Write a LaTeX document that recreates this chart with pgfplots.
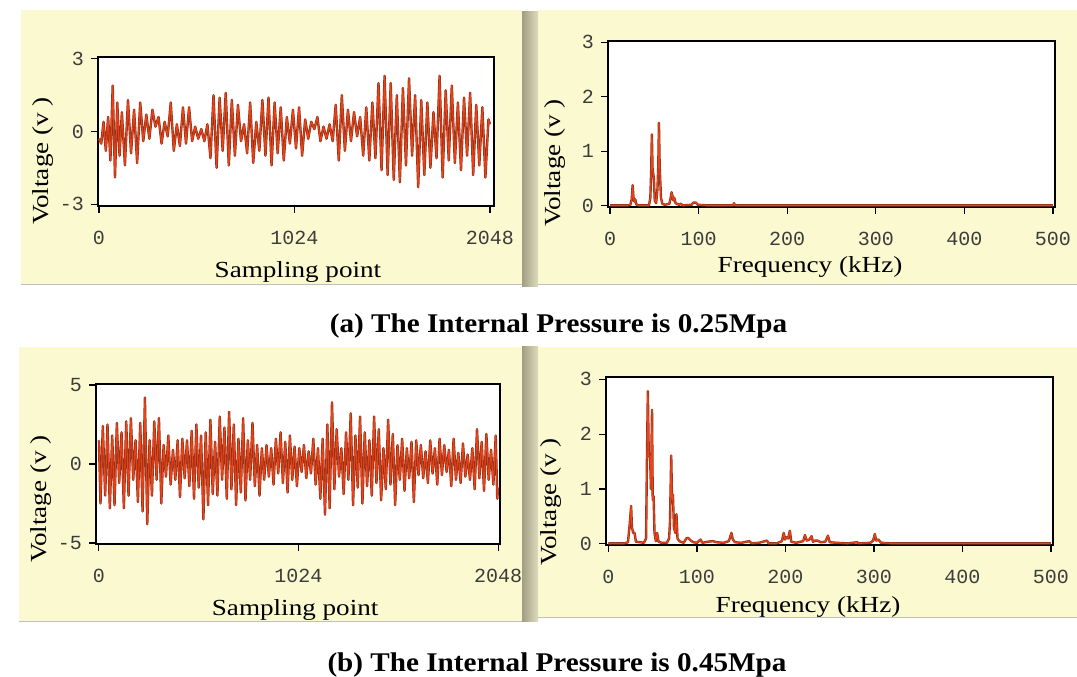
\documentclass[border=0pt]{standalone}
\usepackage{pgfplots}
\pgfplotsset{compat=1.18}
\usepackage{pgfplotstable}
\usepackage{graphicx}
\usepackage{fontspec}
\setmainfont{Liberation Serif}
\newfontfamily\monof{Liberation Mono}

\definecolor{panel}{RGB}{251,249,207}
\definecolor{stripA}{RGB}{160,158,128}
\definecolor{stripB}{RGB}{222,220,190}
\definecolor{sigdark}{RGB}{140,52,28}
\definecolor{sigred}{RGB}{238,66,22}
\definecolor{tickgray}{RGB}{60,60,60}

\pgfplotstableread{
x y
0 -0.3
12 -0.5
24 0.4
36 -0.8
48 0.6
60 -1.2
72 1.9
84 -1.9
96 1.2
108 -1.0
120 0.8
136 -1.4
152 1.3
168 -0.9
184 0.9
200 -1.3
216 1.2
232 -0.4
248 0.7
264 -0.3
280 0.9
296 0.2
312 0.6
328 -0.5
344 0.4
360 -0.2
376 1.2
392 -0.8
408 0.3
424 -0.6
440 1.0
456 -0.5
472 1.0
488 -0.4
504 0.2
520 -0.3
536 0.1
552 -0.4
568 0.3
584 -1.1
600 1.5
616 -1.5
632 1.4
648 -0.8
664 1.6
680 -1.4
696 1.3
712 -1.0
728 1.1
744 -0.4
760 0.3
776 -0.9
792 1.2
808 -1.3
824 0.4
840 -0.8
856 1.3
872 -1.0
888 1.4
904 -1.4
920 1.2
936 -0.9
952 1.0
968 -1.2
984 0.6
1000 -0.5
1016 0.9
1032 -0.7
1048 1.0
1064 -1.0
1080 0.5
1096 -0.3
1112 0.4
1128 0.1
1144 0.6
1160 -0.4
1176 0.2
1192 -0.3
1208 0.3
1224 -0.4
1240 1.1
1256 -1.2
1272 1.5
1288 -0.8
1304 0.9
1320 -0.4
1336 0.8
1352 -0.2
1368 0.6
1384 -1.0
1400 1.0
1416 -1.2
1432 1.2
1448 -1.1
1464 2.0
1480 -1.6
1496 2.3
1512 -1.8
1528 2.0
1544 -2.0
1560 1.5
1576 -2.1
1592 1.8
1608 -1.4
1624 2.2
1640 -1.0
1656 1.5
1672 -2.3
1688 1.3
1704 -1.8
1720 1.2
1736 -1.5
1752 0.8
1768 -1.1
1784 2.3
1800 -1.9
1816 1.7
1832 -1.2
1848 1.9
1864 -1.3
1880 1.2
1896 -1.6
1912 1.4
1928 -1.0
1944 1.6
1960 -1.8
1976 1.1
1992 -1.4
2008 1.0
2024 -1.9
2040 0.5
2048 0.3
}\timeA

\pgfplotstableread{
x y
0 1.5
8 -2.5
20 2.4
32 -2.0
44 2.5
56 -2.8
68 1.8
80 -2.6
92 2.6
104 -1.2
116 2.0
128 -2.8
140 2.7
152 -2.0
164 2.9
176 -1.0
188 1.5
200 -2.4
212 2.6
224 -3.0
236 4.2
248 -3.8
260 1.5
272 -2.0
284 2.7
296 -1.0
308 2.9
320 -2.5
332 1.2
344 -0.8
356 1.8
368 -1.3
380 0.9
392 -1.0
404 1.5
416 -2.1
428 1.6
440 -0.9
452 1.5
464 -1.4
476 2.1
488 -2.2
500 2.5
512 -1.5
524 1.8
536 -3.5
548 2.0
560 -2.6
572 2.8
584 -1.9
596 1.4
608 -2.0
620 3.0
632 -1.0
644 2.3
656 -2.2
668 3.3
680 -1.6
692 2.5
704 -2.6
716 1.6
728 -1.8
740 2.9
752 -2.3
764 1.5
776 -1.0
788 2.6
800 -1.4
812 1.2
824 -2.0
836 1.0
848 -1.0
860 1.2
872 -0.8
884 1.0
896 -1.3
908 1.6
920 -0.6
932 2.0
944 -1.2
956 1.4
968 -1.8
980 1.8
992 -1.0
1004 1.1
1016 -1.4
1028 1.0
1040 -0.5
1052 1.2
1064 -0.9
1076 0.8
1088 -0.6
1100 1.6
1112 -1.3
1124 1.0
1136 -2.2
1148 1.6
1160 -3.2
1172 2.5
1184 -2.8
1196 3.9
1208 -1.6
1220 2.2
1232 -0.8
1244 1.0
1256 -1.9
1268 2.0
1280 -1.0
1292 3.2
1304 -2.6
1316 1.8
1328 -1.5
1340 3.0
1352 -2.5
1364 2.0
1376 -1.4
1388 1.5
1400 -2.0
1412 3.0
1424 -1.2
1436 2.2
1448 -2.3
1460 1.0
1472 -1.6
1484 2.8
1496 -1.3
1508 1.9
1520 -2.6
1532 1.2
1544 -1.0
1556 1.6
1568 -1.7
1580 1.0
1592 -0.9
1604 1.4
1616 -2.4
1628 1.5
1640 -0.7
1652 1.2
1664 -0.9
1676 0.8
1688 -1.2
1700 1.5
1712 -0.6
1724 1.0
1736 -1.3
1748 1.6
1760 -0.7
1772 1.2
1784 -0.5
1796 0.9
1808 -1.4
1820 1.6
1832 -1.0
1844 0.7
1856 -1.2
1868 1.3
1880 -0.8
1892 0.6
1904 -1.0
1916 1.0
1928 -1.6
1940 2.2
1952 -0.9
1964 1.4
1976 -1.7
1988 1.9
2000 -1.0
2012 0.9
2024 -1.3
2036 1.8
2044 -2.2
2048 -1.5
}\timeB

\pgfplotstableread{
x y
0 0.01
20 0.01
23 0.02
24.5 0.12
25.5 0.38
26.5 0.15
27.5 0.08
28.5 0.12
29.5 0.03
32 0.01
44 0.01
45.5 0.15
46.5 0.68
47.2 1.31
48 0.68
49.5 0.5
50.5 0.1
52 0.05
53.5 0.3
54.5 0.75
55.2 1.52
56 0.75
57.5 0.15
59 0.04
62 0.02
67 0.04
68.5 0.15
69.5 0.25
70.5 0.18
71.5 0.1
72.5 0.15
74 0.05
78 0.02
80 0.04
82 0.01
92 0.02
94 0.06
97 0.06
99 0.02
110 0.01
139 0.01
140 0.05
141 0.01
200 0.01
500 0.01
}\specA

\pgfplotstableread{
x y
0 0.01
18 0.01
22 0.03
24 0.36
25.6 0.69
26.5 0.3
28 0.2
29.5 0.2
31 0.04
36 0.03
40 0.02
42.5 0.1
43.5 1.6
44.5 2.78
45.5 1.6
47 1.6
48 1.0
49.2 2.44
50 0.8
51 0.87
52 0.2
53.5 0.05
55 0.2
56.5 0.04
60 0.02
66 0.02
68.5 0.1
69.5 0.4
70.9 1.61
71.8 0.8
72.8 0.9
74 0.3
75.5 0.2
76.8 0.54
78 0.1
80 0.05
85 0.02
88 0.1
90 0.11
93 0.06
96 0.03
100 0.02
104 0.08
106 0.02
112 0.04
118 0.05
122 0.03
130 0.02
136 0.05
138 0.15
139 0.2
140.5 0.08
143 0.03
150 0.02
159 0.05
162 0.01
170 0.02
179 0.06
181 0.01
190 0.01
196 0.05
198 0.2
199.5 0.08
201 0.12
203 0.1
205 0.24
206.5 0.04
212 0.02
220 0.05
222 0.16
224 0.06
227 0.08
229.5 0.14
231 0.04
233.5 0.06
236 0.06
240 0.03
245 0.04
248 0.15
250 0.03
258 0.02
270 0.01
281 0.03
283 0.01
296 0.02
299 0.06
301 0.18
302.5 0.06
305 0.08
308 0.02
320 0.01
500 0.01
}\specB

\pgfplotsset{
  panelaxis/.style={
    scale only axis,
    anchor=south west,
    axis background/.style={fill=white},
    axis line style={black, line width=1.1pt},
    tick align=outside,
    major tick length=7pt,
    tick style={black, line width=1.1pt},
    xtick pos=bottom, ytick pos=left,
    ticklabel style={font=\monof\fontsize{20}{20}\selectfont, text=tickgray, inner sep=0pt},
    xticklabel style={anchor=center, yshift=-25pt},
    yticklabel style={anchor=east, xshift=-7pt},
    label style={font=\fontsize{23}{23}\selectfont, anchor=center},
  },
  darkline/.style={color=sigdark, line width=2.4pt, line join=round},
  redline/.style={color=sigred, line width=1.1pt, line join=round},
}

\begin{document}
\begin{tikzpicture}[x=1pt,y=1pt]
\path[use as bounding box] (0,0) rectangle (1077,677);
% panels
\fill[panel] (21,392) rectangle (522,667);
\fill[panel] (538,392) rectangle (1077,667);
\fill[panel] (19,55) rectangle (522,330);
\fill[panel] (538,59) rectangle (1077,330);
\shade[left color=stripA, right color=stripB] (522,390) rectangle (538,665);
\shade[left color=stripA, right color=stripB] (522,55) rectangle (538,330);
\draw[gray!50, line width=1pt] (21,392) -- (522,392);
\draw[gray!50, line width=1pt] (538,392) -- (1077,392);
\draw[gray!50, line width=1pt] (19,55) -- (522,55);
\draw[gray!50, line width=1pt] (538,59) -- (1077,59);

% (a) time
\begin{axis}[panelaxis, at={(98pt,471pt)}, width=396pt, height=149pt,
  xmin=-5, xmax=2069, ymin=-3.08, ymax=3.08,
  xtick={0,1024,2048}, xticklabels={0,1024,2048},
  ytick={-3,0,3}, yticklabels={-3,0,3},
  xlabel={\scalebox{1.18}[1]{Sampling point}},
  ylabel={\scalebox{1.18}[1]{Voltage (v )}},
  xlabel style={at={(axis description cs:0.505,-0.443)}},
  ylabel style={at={(axis description cs:-0.139,0.302)}},
]
\addplot[darkline] table {\timeA};
\addplot[redline] table {\timeA};
\end{axis}

% (a) spectrum
\begin{axis}[panelaxis, at={(608pt,470pt)}, width=447pt, height=166pt,
  xmin=-2.3, xmax=502.3, ymin=-0.02, ymax=3.02,
  xtick={0,100,200,300,400,500}, xticklabels={0,100,200,300,400,500},
  ytick={0,1,2,3}, yticklabels={0,1,2,3},
  xlabel={\scalebox{1.18}[1]{Frequency (kHz)}},
  ylabel={\scalebox{1.18}[1]{Voltage (v )}},
  xlabel style={at={(axis description cs:0.452,-0.361)}},
  ylabel style={at={(axis description cs:-0.119,0.265)}},
]
\addplot[darkline] table {\specA};
\addplot[redline] table {\specA};
\end{axis}

% (b) time
\begin{axis}[panelaxis, at={(96pt,133pt)}, width=404pt, height=160pt,
  xmin=-15, xmax=2058, ymin=-5.06, ymax=5.06,
  xtick={0,1024,2048}, xticklabels={0,1024,2048},
  ytick={-5,0,5}, yticklabels={-5,0,5},
  xlabel={\scalebox{1.18}[1]{Sampling point}},
  ylabel={\scalebox{1.18}[1]{Voltage (v )}},
  xlabel style={at={(axis description cs:0.493,-0.4125)}},
  ylabel style={at={(axis description cs:-0.136,0.281)}},
]
\addplot[darkline] table {\timeB};
\addplot[redline] table {\timeB};
\end{axis}

% (b) spectrum
\begin{axis}[panelaxis, at={(606pt,132pt)}, width=447pt, height=168pt,
  xmin=-2.8, xmax=502.3, ymin=-0.02, ymax=3.04,
  xtick={0,100,200,300,400,500}, xticklabels={0,100,200,300,400,500},
  ytick={0,1,2,3}, yticklabels={0,1,2,3},
  xlabel={\scalebox{1.18}[1]{Frequency (kHz)}},
  ylabel={\scalebox{1.18}[1]{Voltage (v )}},
  xlabel style={at={(axis description cs:0.452,-0.369)}},
  ylabel style={at={(axis description cs:-0.123,0.256)}},
]
\addplot[darkline] table {\specB};
\addplot[redline] table {\specB};
\end{axis}

\node[anchor=base] at (558.5,344) {\fontsize{27}{27}\bfseries\selectfont\scalebox{1.08}[1]{(a) The Internal Pressure is 0.25Mpa}};
\node[anchor=base] at (557,5) {\fontsize{27}{27}\bfseries\selectfont\scalebox{1.08}[1]{(b) The Internal Pressure is 0.45Mpa}};
\end{tikzpicture}
\end{document}
